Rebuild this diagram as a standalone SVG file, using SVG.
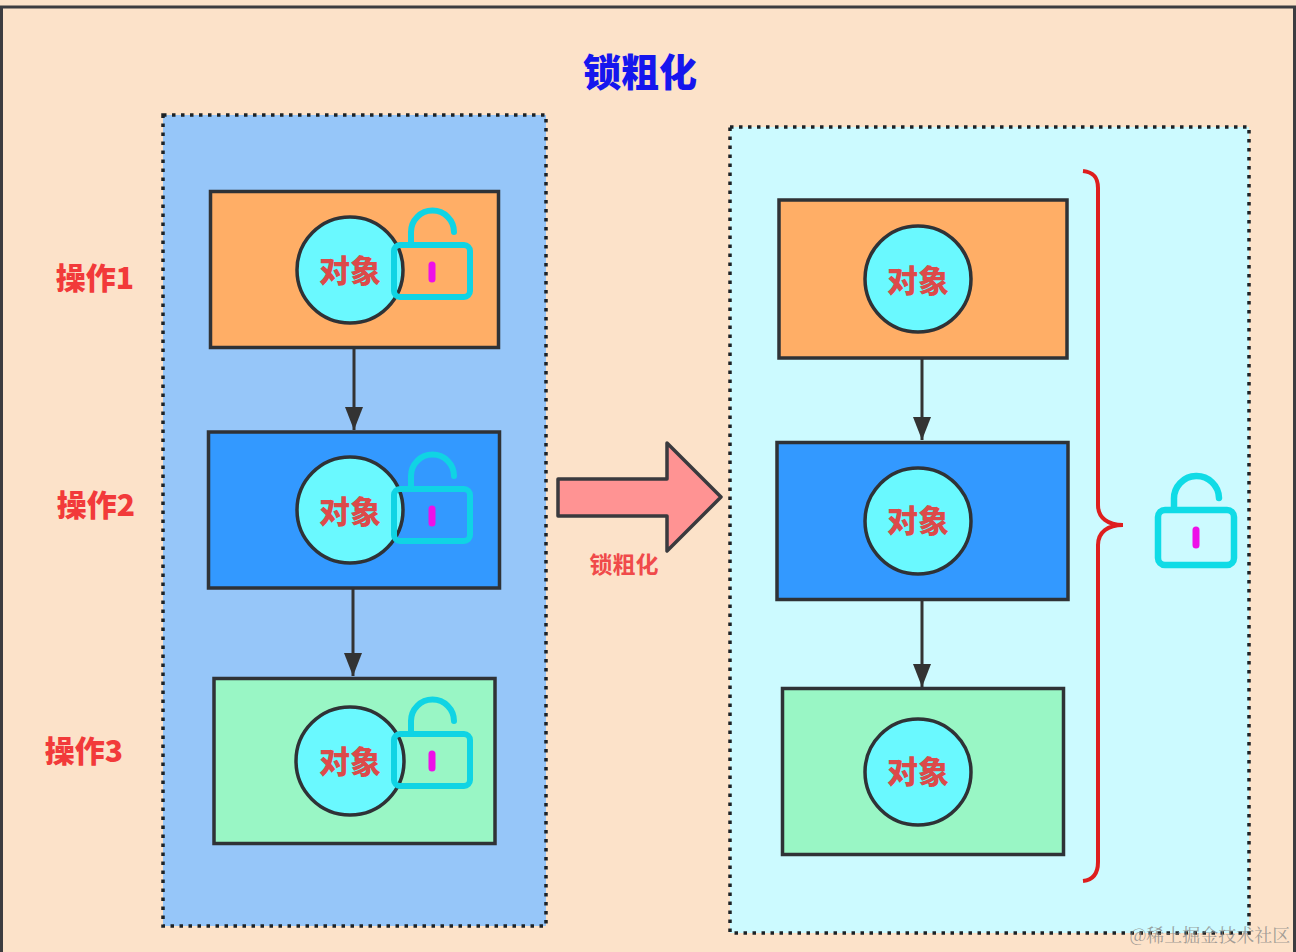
<svg xmlns="http://www.w3.org/2000/svg" width="1296" height="952" viewBox="0 0 1296 952">
<defs>
<marker id="ah" markerUnits="userSpaceOnUse" markerWidth="24" markerHeight="18" refX="23" refY="9" orient="auto"><path d="M0 0 L23 9 L0 18 Z" fill="#333"/></marker>
<g id="lock" fill="none" stroke-linecap="round">
<rect x="-38" y="-26" width="76" height="52" rx="6" stroke="#10d4e4" stroke-width="6"/>
<path d="M-21 -28 V-39 A21.500 21.500 0 0 1 22 -39" stroke="#10d4e4" stroke-width="6"/>
<path d="M0 -6 V8" stroke="#ee10e8" stroke-width="7"/>
</g>
</defs>
<style>
.box{stroke:#2f3236;stroke-width:3.5}
.circ{fill:#6af9ff;stroke:#2f3236;stroke-width:3.5}
.obj{font:900 31px "Noto Sans CJK SC","Liberation Sans",sans-serif;fill:#dc4a4a;text-anchor:middle}
.op{font:900 30px "Noto Sans CJK SC","Liberation Sans",sans-serif;fill:#f23a3a;text-anchor:middle}
.grp{stroke:#1c2226;stroke-width:3.5;stroke-dasharray:3.5 5.5}
.conn{stroke:#333;stroke-width:3;fill:none}
</style>
<rect x="-2" y="-2" width="1300" height="956" fill="#fce2c9"/>
<path d="M1.500 952 V7 H1294.500 V952" fill="none" stroke="#3c3c40" stroke-width="3"/>
<text id="title" x="640" y="86" font-family="Noto Sans CJK SC, sans-serif" font-weight="900" font-size="38" fill="#1616ee" text-anchor="middle">锁粗化</text>
<rect id="group-left" class="grp" x="163" y="115" width="383" height="811" fill="#96c6f9"/>
<rect id="group-right" class="grp" x="730" y="127" width="519" height="806" fill="#ccfaff"/>
<g id="connectors">
<path class="conn" d="M354 348 V430" marker-end="url(#ah)"/>
<path class="conn" d="M353 588 V676" marker-end="url(#ah)"/>
<path class="conn" d="M922 359 V440" marker-end="url(#ah)"/>
<path class="conn" d="M922 600 V687" marker-end="url(#ah)"/>
</g>
<g id="op1-label"><text class="op" x="95" y="289">操作1</text></g>
<g id="op2-label"><text class="op" x="96" y="516">操作2</text></g>
<g id="op3-label"><text class="op" x="84" y="762">操作3</text></g>
<g id="left-1"><rect class="box" x="210.500" y="191.500" width="288" height="156" fill="#ffae66"/><circle class="circ" cx="350" cy="270" r="53"/><text class="obj" x="350" y="282">对象</text><use href="#lock" x="432" y="271"/></g>
<g id="left-2"><rect class="box" x="208.500" y="432" width="291" height="156" fill="#3399ff"/><circle class="circ" cx="350" cy="510" r="53"/><text class="obj" x="350" y="523">对象</text><use href="#lock" x="432" y="515"/></g>
<g id="left-3"><rect class="box" x="214" y="678.500" width="281" height="165" fill="#99f6c5"/><circle class="circ" cx="350" cy="761" r="54"/><text class="obj" x="350" y="773">对象</text><use href="#lock" x="432" y="760"/></g>
<g id="right-1"><rect class="box" x="779" y="200" width="288" height="158" fill="#ffae66"/><circle class="circ" cx="918" cy="279" r="53"/><text class="obj" x="918" y="292">对象</text></g>
<g id="right-2"><rect class="box" x="777" y="442.500" width="291" height="157" fill="#3399ff"/><circle class="circ" cx="918" cy="521" r="53"/><text class="obj" x="918" y="532">对象</text></g>
<g id="right-3"><rect class="box" x="782.500" y="688.500" width="281" height="166" fill="#99f6c5"/><circle class="circ" cx="918" cy="772" r="53"/><text class="obj" x="918" y="783">对象</text></g>
<g id="transform-arrow"><path d="M558 479 H667 V443 L721 497 L667 551 V516 H558 Z" fill="#ff9393" stroke="#3a3a3e" stroke-width="3.500" stroke-linejoin="round"/><text x="624" y="573" font-family="Noto Sans CJK SC, sans-serif" font-weight="700" font-size="23" fill="#f04a4a" text-anchor="middle">锁粗化</text></g>
<g id="brace"><path d="M1083 171 C1092 172 1098 176 1098 188 V505 C1098 518 1108 525 1123 525 C1108 525 1098 532 1098 545 V862 C1098 874 1092 880 1083 881" fill="none" stroke="#de1e1e" stroke-width="4"/></g>
<g id="big-lock" fill="none" stroke-linecap="round"><rect x="1158" y="510" width="76" height="55" rx="7" stroke="#10dbe6" stroke-width="6.500"/><path d="M1174 509 V499 A22.500 22.500 0 0 1 1219 498" stroke="#10dbe6" stroke-width="6.500"/><path d="M1196 530 V545" stroke="#ee10e8" stroke-width="7"/></g>
<text id="watermark" x="1210" y="942" font-family="Noto Serif CJK SC, Noto Sans CJK SC, sans-serif" font-size="18" fill="#8a8a88" fill-opacity="0.8" text-anchor="middle">@稀土掘金技术社区</text>
</svg>
